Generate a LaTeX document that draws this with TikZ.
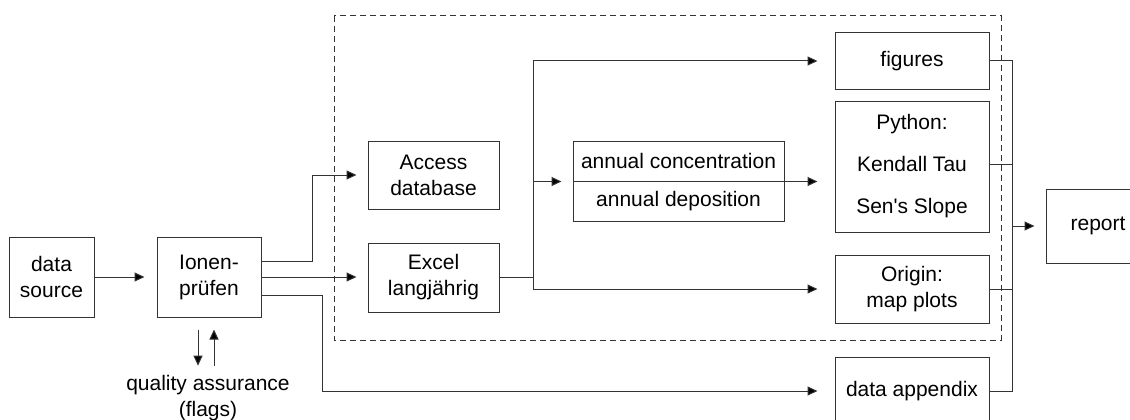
\documentclass[tikz,border=0pt]{standalone}
\usepackage{fontspec}
\setmainfont{Liberation Sans}
\usetikzlibrary{arrows.meta}
\tikzset{
  box/.style={draw=black!80, line width=1pt, inner sep=0pt, align=center},
  link/.style={draw=black!80, line width=1pt},
  flow/.style={link, -{Triangle[length=10pt,width=9pt,fill=black]}},
}

\begin{document}
\begin{tikzpicture}[x=1pt,y=-1pt,font=\fontsize{21}{26}\selectfont]
      \useasboundingbox (0,0) rectangle (1130,420);
      \draw[black!80, line width=1pt, dash pattern=on 6pt off 4pt]
        (334,16) rectangle (1001,340);
      \node[box, minimum width=85pt, minimum height=80pt] (src) at (51.5,277) {data\\source};
      \node[box, minimum width=104pt, minimum height=80pt] (ion) at (209,277) {Ionen-\\prüfen};
      \node[align=center] (qa) at (208,398) {quality assurance\\(flags)};
      \node[box, minimum width=131pt, minimum height=68pt] (access) at (433.5,175) {Access\\database};
      \node[box, minimum width=131pt, minimum height=69pt] (excel) at (433.5,277.5) {Excel\\langjährig};
      \node[box, minimum width=211pt, minimum height=40pt] (conc) at (678.5,161) {annual concentration};
      \node[box, minimum width=211pt, minimum height=40pt] (depo) at (678.5,201) {annual deposition};
      \node[box, minimum width=154pt, minimum height=56pt] (figures) at (912,61) {figures};
      \node[box, minimum width=154pt, minimum height=131pt] (python) at (912,166.5)
        {Python:\\[16pt]Kendall Tau\\[16pt]Sen\textquotesingle s Slope};
      \node[box, minimum width=154pt, minimum height=68pt] (origin) at (912,289) {Origin:\\map plots};
      \node[box, minimum width=154pt, minimum height=68pt] (appendix) at (912,391) {data appendix};
      \node[box, minimum width=104pt, minimum height=74pt] (report) at (1098,226) {report};
      \coordinate (hub) at (533,277.5);
      \coordinate (bus) at (1012,226);
      \begin{scope}[flow]
        \draw[shorten >=12pt] (src) -- (ion);
        \draw[shorten >=11pt] ([yshift=16pt]ion.east) -- ++(51,0) |- (access.west);
        \draw[shorten >=11pt] (ion.east) -- (ion.east -| excel.west);
        \draw[shorten >=17pt] ([yshift=-18pt]ion.east) -- ++(61,0) |- (appendix.west);
        \draw[shorten <=12pt, shorten >=6pt] ([xshift=-11pt]ion.south) -- ([xshift=-11pt]ion.south |- qa.north);
        \draw[shorten >=12pt, shorten <=6pt] ([xshift=5pt]ion.south |- qa.north) -- ([xshift=5pt]ion.south);
        \draw[shorten >=17pt] (hub) |- (figures.west);
        \draw[shorten >=11pt] (hub) |- (conc.south west);
        \draw[shorten >=17pt] (hub) |- (origin.west);
        \draw[shorten >=17pt] (conc.south east) -- (conc.south east -| python.west);
        \draw[shorten >=11pt] (bus) -- (report.west);
      \end{scope}
      \begin{scope}[link]
        \draw (excel.east) -- (hub);
        \draw (figures.east) -| (bus) |- (appendix.east);
        \draw ([yshift=2pt]python.east) -- ([yshift=2pt]python.east -| bus);
        \draw (origin.east) -- (origin.east -| bus);
      \end{scope}
    \end{tikzpicture}
\end{document}
